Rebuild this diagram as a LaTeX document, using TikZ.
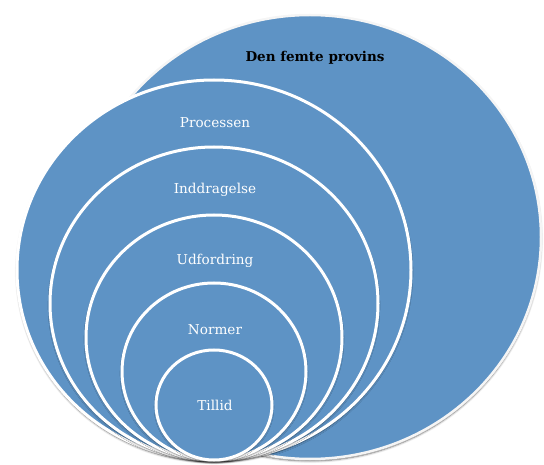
\documentclass[tikz,border=0pt]{standalone}
\usepackage{fontspec}
\setmainfont{DejaVu Serif}
\usetikzlibrary{shapes.geometric,shadows.blur}
\definecolor{ringblue}{RGB}{94,147,197}
\tikzset{
  ring/.style={ellipse, inner sep=0pt, fill=ringblue, draw=white, line width=3pt,
    blur shadow={shadow xshift=0pt, shadow yshift=-2pt, shadow blur steps=6, shadow opacity=55}},
  outerring/.style={ring, draw=white!92!gray, line width=2.5pt},
  ringlabel/.style={text=white, font=\fontsize{13.6}{15}\selectfont},
}
\begin{document}
\begin{tikzpicture}[x=1pt, y=1pt]
  \useasboundingbox (0,0) rectangle (544,464);
  % outermost ellipse and the nested rings, all touching at the bottom
  \node[outerring, minimum width=462pt, minimum height=444pt] (provins) at (310,227) {};
  \node[ring, minimum width=394pt, minimum height=380pt] (processen) at (214,194) {};
  \node[ring, minimum width=328pt, minimum height=313pt] (inddragelse) at (214,160.5) {};
  \node[ring, minimum width=256pt, minimum height=245pt] (udfordring) at (214,126.5) {};
  \node[ring, minimum width=184pt, minimum height=177pt] (normer) at (214,92.5) {};
  \node[ring, minimum width=116pt, minimum height=110pt] (tillid) at (214,59) {};
  % labels
  \node[font=\fontsize{13.5}{15}\selectfont\bfseries] (lprovins) at (315,406) {Den femte provins};
  \node[ringlabel] (lprocessen) at (215,341) {Processen};
  \node[ringlabel] (linddragelse) at (215,274) {Inddragelse};
  \node[ringlabel] (ludfordring) at (215,203) {Udfordring};
  \node[ringlabel] (lnormer) at (215,134) {Normer};
  \node[ringlabel] (ltillid) at (215,59) {Tillid};
\end{tikzpicture}
\end{document}
